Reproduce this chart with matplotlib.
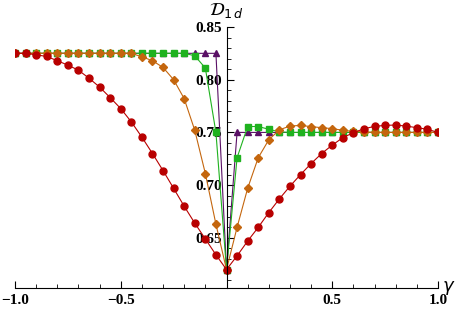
import numpy as np
import matplotlib
matplotlib.use("Agg")
import matplotlib.pyplot as plt
from matplotlib.ticker import MultipleLocator, FixedLocator

# gamma grid, step 0.05
gamma = np.round(np.arange(-1.0, 1.0001, 0.05), 2)

red = [0.825, 0.825, 0.8236, 0.822, 0.818, 0.8138, 0.809, 0.8014, 0.793, 0.783,
       0.7726, 0.760, 0.7455, 0.730, 0.7138, 0.697, 0.680, 0.664, 0.649, 0.634,
       0.620,
       0.633, 0.647, 0.660, 0.674, 0.687, 0.699, 0.710, 0.7205, 0.730, 0.738,
       0.745, 0.7498, 0.7535, 0.7557, 0.7567, 0.757, 0.756, 0.7545, 0.753, 0.750]

orange = [0.825] * 12 + [0.8217, 0.818, 0.8116, 0.800, 0.782, 0.752, 0.711, 0.663,
          0.620,
          0.660, 0.697, 0.726, 0.743, 0.7525, 0.756, 0.7567, 0.7555, 0.7545, 0.7536,
          0.752, 0.751, 0.7505, 0.750, 0.750, 0.750, 0.750, 0.750, 0.750, 0.750]

green = [0.825] * 17 + [0.8227, 0.811, 0.750,
         0.620,
         0.726, 0.7556, 0.7556, 0.753, 0.7505] + [0.750] * 15

purple = [0.825] * 20 + [0.620] + [0.750] * 20

fig = plt.figure(figsize=(4.63, 3.12), dpi=100)
ax = fig.add_axes([15 / 463, 24 / 312, 423 / 463, 264 / 312])

ax.plot(gamma, purple, '-^', color='#5a1066', lw=0.8, ms=5, mec='#5a1066')
ax.plot(gamma, green, '-s', color='#1fb21f', lw=0.8, ms=4.2, mec='#1fb21f')
ax.plot(gamma, orange, '-D', color='#c4660e', lw=0.8, ms=3.8, mec='#c4660e')
ax.plot(gamma, red, '-o', color='#b80000', lw=0.8, ms=5, mec='#b80000')

ax.set_xlim(-1.0, 1.0)
ax.set_ylim(0.6025, 0.8528)

# Mathematica style axes crossing at gamma=0
ax.spines['top'].set_visible(False)
ax.spines['right'].set_visible(False)
ax.spines['left'].set_position(('data', 0))
ax.spines['left'].set_bounds(0.6025, 0.85)

ax.xaxis.set_major_locator(FixedLocator([-1.0, -0.5, 0.5, 1.0]))
ax.xaxis.set_minor_locator(MultipleLocator(0.1))
ax.yaxis.set_major_locator(FixedLocator([0.65, 0.70, 0.75, 0.80, 0.85]))
ax.yaxis.set_minor_locator(MultipleLocator(0.01))
ax.set_xticklabels(['\u22121.0', '\u22120.5', '0.5', '1.0'])
ax.set_yticklabels(['0.65', '0.70', '0.75', '0.80', '0.85'])

ax.tick_params(axis='x', which='major', direction='in', length=5, width=0.8, pad=4)
ax.tick_params(axis='x', which='minor', direction='in', length=3, width=0.6)
ax.tick_params(axis='y', which='major', direction='in', length=5, width=0.8, pad=3)
ax.tick_params(axis='y', which='minor', direction='in', length=3, width=0.6)
for lab in ax.get_xticklabels() + ax.get_yticklabels():
    lab.set_family('Liberation Serif')
    lab.set_weight('bold')
    lab.set_fontsize(11)

ax.text(0.0, 0.857, r'$\mathcal{D}_{1\,d}$', fontsize=13, ha='center', va='bottom')
ax.text(1.05, 0.6025, r'$\gamma$', fontsize=13, ha='center', va='center')

fig.savefig('out.png', dpi=100)
